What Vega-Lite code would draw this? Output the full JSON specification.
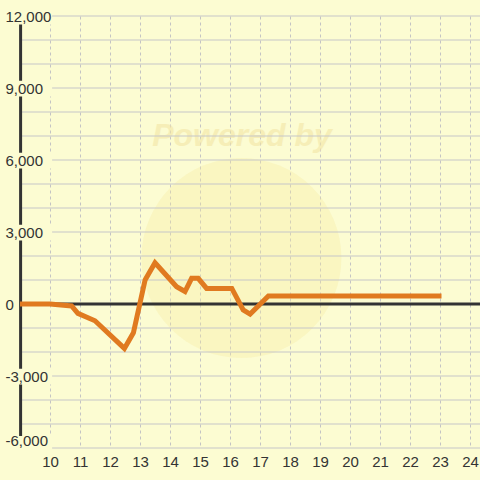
{
  "$schema": "https://vega.github.io/schema/vega-lite/v6.json",
  "width": 460,
  "height": 432,
  "autosize": {"type": "none"},
  "padding": {"left": 20, "top": 16, "right": 0, "bottom": 32},
  "background": "#FCFCD2",
  "config": {"view": {"stroke": null}, "font": "Liberation Sans", "axis": {"labelOverlap": false, "labelFlush": false}},
  "datasets": {
    "series": [
      {"t": 9, "v": 0},
      {"t": 10, "v": 0},
      {"t": 10.72, "v": -80},
      {"t": 10.93, "v": -390},
      {"t": 11.5, "v": -700},
      {"t": 12.48, "v": -1850},
      {"t": 12.78, "v": -1200},
      {"t": 13.17, "v": 1000},
      {"t": 13.5, "v": 1720},
      {"t": 14.22, "v": 720},
      {"t": 14.5, "v": 520},
      {"t": 14.72, "v": 1070},
      {"t": 14.94, "v": 1070},
      {"t": 15.22, "v": 650},
      {"t": 16.06, "v": 650},
      {"t": 16.44, "v": -250},
      {"t": 16.67, "v": -420},
      {"t": 17.28, "v": 330},
      {"t": 23.05, "v": 330}
    ],
    "grid": [
      {"g": -6000}, {"g": -5000}, {"g": -4000}, {"g": -3000}, {"g": -2000}, {"g": -1000},
      {"g": 1000}, {"g": 2000}, {"g": 3000}, {"g": 4000}, {"g": 5000},
      {"g": 6000}, {"g": 7000}, {"g": 8000}, {"g": 9000}, {"g": 10000}, {"g": 11000}, {"g": 12000}
    ],
    "labelbox": [
      {"lo": 11650, "hi": 12350},
      {"lo": 8650, "hi": 9300},
      {"lo": 5650, "hi": 6300},
      {"lo": 2650, "hi": 3300},
      {"lo": -3350, "hi": -2700},
      {"lo": -6350, "hi": -5500}
    ],
    "watermark": [{"x": 16.38, "y": 1917, "label": "Powered by", "ty": 7000, "tx": 16.4}]
  },
  "encoding": {
    "x": {
      "type": "quantitative",
      "scale": {"domain": [9, 24.333], "nice": false, "zero": false},
      "axis": {
        "title": null, "values": [10, 11, 12, 13, 14, 15, 16, 17, 18, 19, 20, 21, 22, 23, 24],
        "domain": false, "ticks": false, "grid": true, "gridDash": [3, 3], "gridColor": "#C4C4C4",
        "gridWidth": 1, "labelFontSize": 15, "labelColor": "#333333", "labelPadding": 6,
        "labelOverlap": false, "labelFont": "Liberation Sans", "zindex": 0
      }
    },
    "y": {
      "type": "quantitative",
      "scale": {"domain": [-6000, 12000], "nice": false},
      "axis": {
        "title": null,
        "values": [-6000, -3000, 0, 3000, 6000, 9000, 12000],
        "labelExpr": "(datum.value < 0 ? '-' : '') + format(abs(datum.value), ',')",
        "domain": false, "ticks": false, "tickSize": 0, "grid": false,
        "labelAlign": "left", "labelPadding": 15, "labelFontSize": 15, "labelOverlap": false,
        "labelBaseline": {"condition": {"test": "datum.value == -6000", "value": "bottom"}, "value": "middle"},
        "labelColor": "#333333", "labelFont": "Liberation Sans", "zindex": 1
      }
    }
  },
  "layer": [
    {
      "data": {"name": "watermark"},
      "mark": {"type": "point", "filled": true, "size": 40000, "color": "#F6E9A0", "opacity": 0.32},
      "encoding": {
        "x": {"field": "x", "type": "quantitative"},
        "y": {"field": "y", "type": "quantitative"}
      }
    },
    {
      "data": {"name": "watermark"},
      "mark": {"type": "text", "fontSize": 32, "fontWeight": "bold", "fontStyle": "italic", "color": "#F3E6A6", "opacity": 0.6, "font": "Liberation Sans"},
      "encoding": {
        "x": {"field": "tx", "type": "quantitative"},
        "y": {"field": "ty", "type": "quantitative"},
        "text": {"field": "label"}
      }
    },
    {
      "data": {"name": "grid"},
      "mark": {"type": "rule", "color": "#C6C6C8", "strokeWidth": 1},
      "encoding": {"x": null, "y": {"field": "g", "type": "quantitative"}}
    },
    {
      "data": {"values": [{"a": 9.02, "lo": -6000, "hi": 12000}]},
      "mark": {"type": "rule", "color": "#333333", "strokeWidth": 3},
      "encoding": {
        "x": {"field": "a", "type": "quantitative"},
        "y": {"field": "lo", "type": "quantitative"},
        "y2": {"field": "hi"}
      }
    },
    {
      "data": {"values": [{"z": 0}]},
      "mark": {"type": "rule", "color": "#333333", "strokeWidth": 3},
      "encoding": {"x": null, "y": {"field": "z", "type": "quantitative"}}
    },
    {
      "data": {"name": "series"},
      "mark": {"type": "line", "color": "#E07A20", "strokeWidth": 5},
      "encoding": {
        "x": {"field": "t", "type": "quantitative"},
        "y": {"field": "v", "type": "quantitative"}
      }
    },
    {
      "data": {"name": "labelbox"},
      "mark": {"type": "rect", "color": "#FCFCD2", "clip": false},
      "encoding": {
        "x": {"datum": 8.45, "type": "quantitative"},
        "x2": {"datum": 10.07},
        "y": {"field": "lo", "type": "quantitative"},
        "y2": {"field": "hi"}
      }
    }
  ]
}
